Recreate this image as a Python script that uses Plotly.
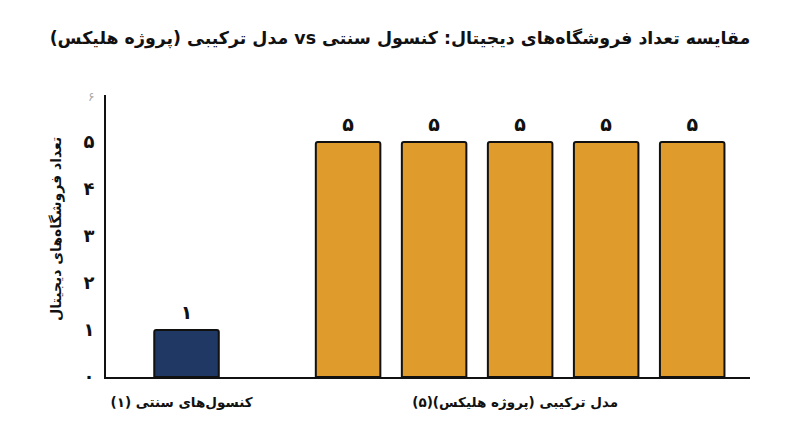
import plotly.graph_objects as go

RLE = "\u202b"
PDF = "\u202c"

title_text = "مقایسه تعداد فروشگاه‌های دیجیتال: کنسول سنتی vs مدل ترکیبی (پروژه هلیکس)"
y_title = "تعداد فروشگاه‌های دیجیتال"
group_labels = ["کنسول‌های سنتی (۱)", "مدل ترکیبی (پروژه هلیکس)(۵)"]
group_sizes = [1, 5]
values = [1, 5, 5, 5, 5, 5]
value_labels = ["۱", "۵", "۵", "۵", "۵", "۵"]
y_ticks = [0, 1, 2, 3, 4, 5, 6]
y_tick_labels = ["۰", "۱", "۲", "۳", "۴", "۵", "۶"]
colors = ["#1F3864", "#E09B2D"]

GROUP_GAP = 0.878
FONT = "DejaVu Sans"

xs, cols, centers = [], [], []
pos = 0.0
for g, n in enumerate(group_sizes):
    members = []
    for _ in range(n):
        xs.append(pos)
        members.append(pos)
        cols.append(colors[g])
        pos += 1
    centers.append(sum(members) / n)
    pos += GROUP_GAP

tick_text = [f"<b>{t}</b>" for t in y_tick_labels]
tick_text[-1] = f'<span style="font-size:12px;fill:#aaaaaa;color:#aaaaaa">{y_tick_labels[-1]}</span>'

fig = go.Figure()
fig.add_trace(
    go.Bar(
        x=xs,
        y=values,
        width=0.75,
        marker=dict(color=cols, line=dict(color="#111111", width=2), cornerradius=2),
    )
)
fig.add_trace(
    go.Scatter(
        x=xs,
        y=values,
        mode="markers+text",
        marker=dict(size=8, opacity=0),
        text=[f"<b>{t}</b>" for t in value_labels],
        textposition="top center",
        textfont=dict(family=FONT, size=19, color="#111111"),
        cliponaxis=False,
        hoverinfo="skip",
    )
)

fig.update_layout(
    width=784,
    height=431,
    margin=dict(l=98, r=42, t=87, b=62, autoexpand=False),
    paper_bgcolor="white",
    plot_bgcolor="white",
    showlegend=False,
    font=dict(family=FONT, color="#111111"),
    title=dict(
        text=f"<b>{RLE}{title_text}{PDF}</b>",
        x=0.5,
        xanchor="center",
        y=0.93,
        yanchor="middle",
        font=dict(family=FONT, size=17.4, color="#111111"),
    ),
    xaxis=dict(
        range=[-0.936, 6.55],
        tickmode="array",
        tickvals=centers,
        ticktext=[f"<b>{RLE}{t}{PDF}</b>" for t in group_labels],
        tickfont=dict(family=FONT, size=13.5, color="#111111"),
        ticks="",
        showgrid=False,
        zeroline=False,
        showline=True,
        linecolor="#111111",
        linewidth=2,
        ticklabelstandoff=12,
        ticklabelshift=-5,
    ),
    yaxis=dict(
        range=[0, 6],
        tickmode="array",
        tickvals=y_ticks,
        ticktext=tick_text,
        tickfont=dict(family=FONT, size=18, color="#111111"),
        ticks="",
        showgrid=False,
        zeroline=False,
        showline=True,
        linecolor="#111111",
        linewidth=2,
        ticklabelstandoff=6,
    ),
    annotations=[
        dict(
            text=f"<b>{RLE}{y_title}{PDF}</b>",
            xref="paper",
            yref="paper",
            x=0,
            y=0.525,
            xanchor="center",
            yanchor="middle",
            xshift=-49,
            textangle=-90,
            showarrow=False,
            font=dict(family=FONT, size=14, color="#111111"),
        )
    ],
)

fig.write_html("out.html")
